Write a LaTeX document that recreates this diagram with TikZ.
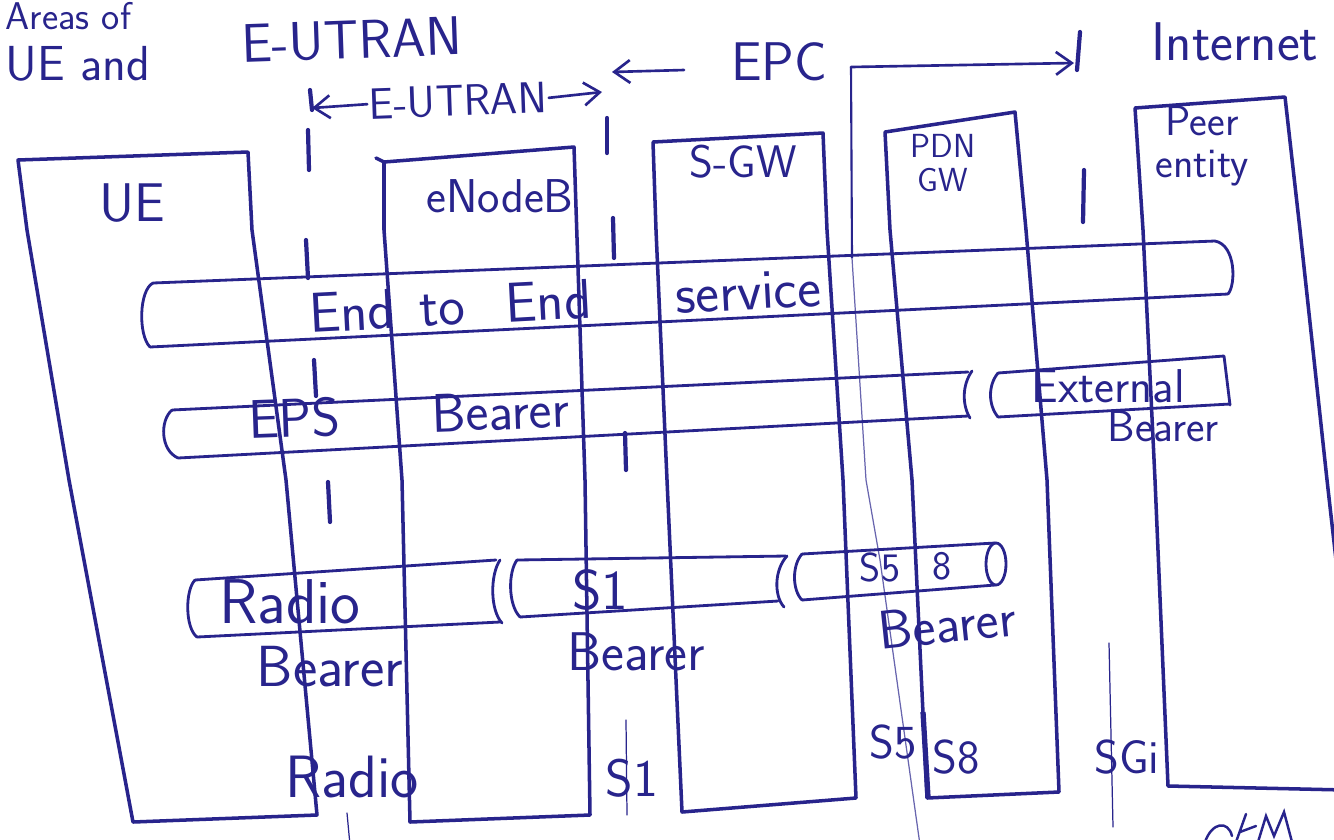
\documentclass[tikz,border=0pt]{standalone}
\usetikzlibrary{arrows.meta}
\definecolor{ink}{RGB}{40,36,140}
\newcommand\inkfont[1]{\fontsize{#1}{#1}\selectfont\sffamily}
\begin{document}
\begin{tikzpicture}[x=0.2mm,y=-0.2mm,
  box/.style={draw=ink,line width=2pt,line join=round,line cap=round},
  pipe/.style={draw=ink,line width=1.6pt,line join=round,line cap=round},
  bound/.style={draw=ink,line width=2.4pt,line cap=round},
  faint/.style={draw=ink,line width=0.7pt,line cap=round},
  arr/.style={draw=ink,line width=1.5pt,line cap=round,-{Straight Barb[length=9pt,width=13pt,line width=1.5pt]}},
  lbl/.style={text=ink,inner sep=0pt,outer sep=1pt},
]
\useasboundingbox (0,0) rectangle (1334,839);
\clip (0,0) rectangle (1334,839);
\fill[white] (0,0) rectangle (1334,839);

% ---------- heading ----------
\node[lbl,font=\inkfont{22},anchor=west] (head) at (4,16) {Areas of};
\node[lbl,font=\inkfont{28},anchor=west] (ueand) at (4,64) {UE and};
\node[lbl,font=\inkfont{31},rotate=2] (eutranTop) at (352,40) {E-UTRAN};

% E-UTRAN span arrow
\node[lbl,font=\inkfont{25},rotate=2] (eutran) at (458,101) {E-UTRAN};
\coordinate (eutranL) at (312,108);
\coordinate (eutranR) at (602,92);
\draw[arr] (eutran.west) -- (eutranL);
\draw[arr] (eutran.east) -- (eutranR);

% EPC span arrow
\node[lbl,font=\inkfont{31}] (epc) at (779,62) {EPC};
\coordinate (epcL) at (612,72);
\coordinate (epcTail) at (684,70);
\draw[arr] (epcTail) -- (epcL);
\coordinate (epcBrTop) at (851,67);
\coordinate (epcBrEnd) at (1074,63);
\coordinate (epcBrLow) at (852,258);
\draw[draw=ink,line width=1.2pt] (epcBrLow) -- (epcBrTop);
\draw[arr] (epcBrTop) -- (epcBrEnd);
\draw[faint,opacity=.7] (epcBrLow) -- (866,480) -- (880,560) -- (920,845);

\node[lbl,font=\inkfont{31}] (inet) at (1235,42) {Internet};

% ---------- domain boundaries (broken strokes) ----------
\draw[bound] (310,90) -- (312,110);
\draw[bound] (308,130) -- (309,170);
\draw[bound] (306,240) -- (308,278);
\draw[bound] (314,360) -- (316,396);
\draw[bound] (328,482) -- (330,522);
\draw[faint] (347,813) -- (350,845);

\draw[bound] (607,118) -- (607,153);
\draw[bound] (613,218) -- (614,258);
\draw[bound] (625,433) -- (626,470);
\draw[faint] (626,720) -- (627,815);

\draw[bound] (1080,32) -- (1077,70);
\draw[bound] (1084,170) -- (1083,222);
\draw[faint] (1109,643) -- (1113,827);

% ---------- network elements ----------
\draw[box] (18,160) -- (248,152) -- (252,230) -- (286,480) -- (317,815)
  -- (133,822) -- (69,480) -- (27,230) -- cycle;
\node[lbl,font=\inkfont{31}] (ue) at (132,203) {UE};

\draw[box] (376,158) -- (384,162) -- (574,147) -- (585,480) -- (590,815)
  -- (410,822) -- (402,480) -- (384,230) -- (384,162);
\node[lbl,font=\inkfont{27}] (enb) at (500,196) {eNodeB};

\draw[box] (653,142) -- (823,133) -- (827,230) -- (843,480) -- (856,798)
  -- (682,812) -- (667,480) -- (656,230) -- cycle;
\node[lbl,font=\inkfont{26}] (sgw) at (743,162) {S-GW};

\draw[box] (885,132) -- (1015,112) -- (1026,230) -- (1047,480) -- (1059,792)
  -- (927,798) -- (912,480) -- (890,230) -- cycle;
\node[lbl,font=\inkfont{19},align=center] (pgw) at (943,163) {PDN\\GW};

\draw[box] (1345,640) -- (1327,480) -- (1300,230) -- (1285,97) -- (1135,108)
  -- (1143,230) -- (1155,480) -- (1168,786) -- (1345,790);
\node[lbl,font=\inkfont{24},align=center] (peer) at (1202,146) {Peer\\entity};

% ---------- end-to-end service ----------
\draw[pipe] (153,283) -- (1215,241);
\draw[pipe] (150,347) -- (1228,294);
\draw[pipe] (153,283) .. controls (139,290) and (138,335) .. (150,347);
\draw[pipe] (1215,241) .. controls (1236,245) and (1236,285) .. (1228,294);
\node[lbl,font=\inkfont{32},rotate=3] (e2e) at (565,300)
  {End\hspace{14pt}to\hspace{23pt}End\hspace{48pt}service};

% ---------- EPS bearer and external bearer ----------
\draw[pipe] (172,410) -- (968,372);
\draw[pipe] (178,458) -- (968,416);
\draw[pipe] (172,410) .. controls (160,420) and (160,450) .. (178,458);
\draw[pipe] (972,371) .. controls (962,385) and (962,405) .. (970,418);
\node[lbl,font=\inkfont{31},rotate=2] (eps) at (409,414)
  {EPS\hspace{52pt}Bearer};

\draw[pipe] (998,373) .. controls (988,385) and (988,405) .. (998,417);
\draw[pipe] (998,373) -- (1224,356) -- (1230,405);
\draw[pipe] (998,417) -- (1230,404);
\node[lbl,font=\inkfont{27}] (extA) at (1108,386) {External};
\node[lbl,font=\inkfont{25}] (extB) at (1163,426) {Bearer};

% ---------- radio bearer ----------
\draw[pipe] (195,580) .. controls (185,590) and (185,628) .. (197,637);
\draw[pipe] (195,580) -- (496,560);
\draw[pipe] (197,637) -- (500,622);
\draw[pipe] (500,560) .. controls (490,575) and (490,610) .. (502,623);
\node[lbl,font=\inkfont{36}] (radioB) at (290,602) {Radio};
\node[lbl,font=\inkfont{33}] (radioB2) at (330,667) {Bearer};

% ---------- S1 bearer ----------
\draw[pipe] (517,560) .. controls (508,572) and (508,605) .. (520,617);
\draw[pipe] (517,560) -- (786,556);
\draw[pipe] (520,617) -- (778,601);
\draw[pipe] (787,556) .. controls (774,570) and (774,596) .. (784,607);
\node[lbl,font=\inkfont{32}] (s1B) at (600,590) {S1};
\node[lbl,font=\inkfont{31}] (s1B2) at (636,652) {Bearer};

% ---------- S5/S8 bearer ----------
\draw[pipe] (802,554) .. controls (792,565) and (792,590) .. (802,600);
\draw[pipe] (802,554) -- (995,543);
\draw[pipe] (802,600) -- (995,585);
\draw[pipe] (996,564) ellipse [x radius=2mm, y radius=4.2mm];
\node[lbl,font=\inkfont{23}] (s5B) at (880,567) {S5};
\node[lbl,font=\inkfont{23}] (s8B) at (942,566) {8};
\node[lbl,font=\inkfont{31},rotate=6] (s5B2) at (947,624) {Bearer};

% ---------- interface names ----------
\node[lbl,font=\inkfont{34}] (ifRadio) at (352,777) {Radio};
\node[lbl,font=\inkfont{30}] (ifS1) at (632,778) {S1};
\draw[draw=ink,line width=3pt] (923,712) -- (928,797);
\node[lbl,font=\inkfont{27}] (ifS5) at (893,742) {S5};
\node[lbl,font=\inkfont{27}] (ifS8) at (956,757) {S8};
\node[lbl,font=\inkfont{27}] (ifSGi) at (1127,757) {SGi};

% ---------- initials ----------
\draw[faint,line width=1.4pt] (1205,842) .. controls (1212,822) and (1228,820) .. (1232,836)
  (1236,842) -- (1246,814) (1240,832) -- (1256,826)
  (1258,842) -- (1266,816) -- (1274,836) -- (1284,812) -- (1292,842);
\end{tikzpicture}
\end{document}
